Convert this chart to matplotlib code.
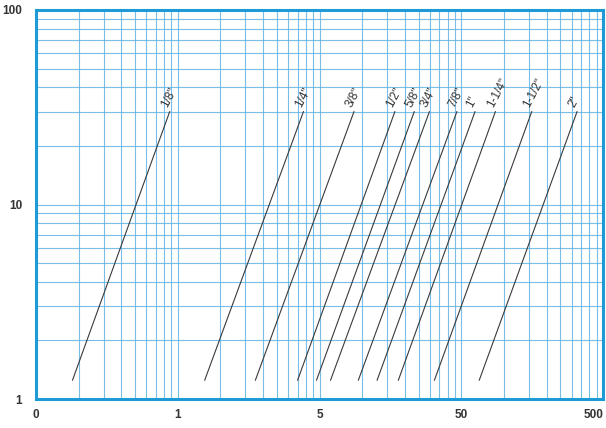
import numpy as np
import matplotlib.pyplot as plt
from matplotlib.ticker import LogLocator, NullFormatter, FixedLocator, FixedFormatter

plt.rcParams['font.family'] = ['Liberation Sans', 'DejaVu Sans']

# pipe sizes and line end points
sizes = ['1/8"', '1/4"', '3/8"', '1/2"', '5/8"', '3/4"', '7/8"', '1"', '1-1/4"', '1-1/2"', '2"']
x_start = [0.181, 1.55, 3.53, 7.01, 9.53, 11.97, 18.8, 25.5, 36.0, 64.7, 134]
x_end = [0.877, 7.70, 17.5, 34.0, 46.6, 59.6, 93.1, 125, 174, 314, 656]
y_start = 1.25
y_end = 30

x_ticks = [0.1, 1, 10, 100, 1000]
x_tick_labels = ['0', '1', '5', '50', '500']
y_ticks = [1, 10, 100]
y_tick_labels = ['1', '10', '100']

grid_color = '#62b3e3'
frame_color = '#1e9ad6'

fig = plt.figure(figsize=(6.06, 4.28), dpi=100)
ax = fig.add_axes([36 / 606, 29 / 428, 567 / 606, 389 / 428])
ax.set_xscale('log')
ax.set_yscale('log')
ax.set_xlim(0.1, 1000)
ax.set_ylim(1, 100)

# lines for each pipe size
for name, xs, xe in zip(sizes, x_start, x_end):
    ax.plot([xs, xe], [y_start, y_end], color='#3a3a3a', linewidth=0.8, zorder=3)
    ax.annotate(name, xy=(xe, y_end), xytext=(0, 2), textcoords='offset points',
                rotation=62, rotation_mode='anchor', ha='left', va='bottom',
                fontsize=8.5, color='#333333', zorder=4)

# ticks
ax.xaxis.set_major_locator(FixedLocator(x_ticks))
ax.xaxis.set_major_formatter(FixedFormatter(x_tick_labels))
ax.yaxis.set_major_locator(FixedLocator(y_ticks))
ax.yaxis.set_major_formatter(FixedFormatter(y_tick_labels))
ax.xaxis.set_minor_locator(LogLocator(base=10, subs=np.arange(2, 10)))
ax.yaxis.set_minor_locator(LogLocator(base=10, subs=np.arange(2, 10)))
ax.xaxis.set_minor_formatter(NullFormatter())
ax.yaxis.set_minor_formatter(NullFormatter())
ax.tick_params(which='both', length=0)
ax.tick_params(axis='x', pad=7, labelsize=8.5, labelcolor='#333333')
ax.tick_params(axis='y', pad=10, labelsize=8.5, labelcolor='#333333')
for lab in ax.get_xticklabels() + ax.get_yticklabels():
    lab.set_fontweight('bold')
# keep the last x label inside the figure
ax.get_xticklabels()[-1].set_horizontalalignment('right')

# grid
ax.grid(True, which='both', color=grid_color, linewidth=0.8, alpha=0.85)
ax.set_axisbelow(True)

# frame
for sp in ax.spines.values():
    sp.set_color(frame_color)
    sp.set_linewidth(2.2)

fig.savefig('out.png', dpi=100)
